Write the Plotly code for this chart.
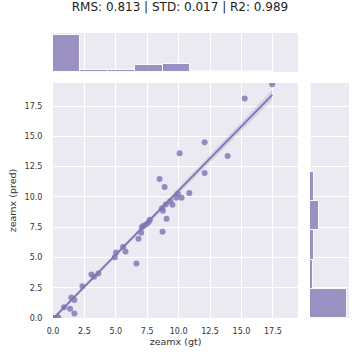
import numpy as np
import plotly.graph_objects as go

gt_vals = [0.0, 0.15, 0.42, 0.88, 1.36, 1.46, 1.70, 1.70, 2.34, 3.06, 3.27, 3.61,
           4.92, 5.02, 5.58, 5.77, 6.64, 6.80, 7.02, 7.07, 7.20, 7.42, 7.60, 7.71,
           8.48, 8.67, 8.72, 8.75, 8.88, 8.98, 9.04, 9.33, 9.51, 9.81, 9.94, 10.08,
           10.23, 10.85, 12.07, 12.07, 13.90, 15.26, 17.45]
pred_vals = [0.0, 0.0, 0.06, 0.88, 0.77, 1.70, 1.48, 0.38, 2.63, 3.59, 3.40, 3.67,
             5.01, 5.40, 5.89, 5.48, 4.49, 6.55, 7.04, 7.50, 7.61, 7.72, 7.91, 8.11,
             11.48, 9.07, 7.12, 8.85, 10.82, 9.37, 8.19, 9.64, 9.34, 9.92, 10.25, 13.61,
             9.92, 10.33, 14.52, 11.97, 13.37, 18.13, 19.30]
n_samples = [62, 1, 1, 1, 1, 1, 1, 1, 1, 1, 1, 1,
             1, 1, 1, 1, 1, 1, 1, 2, 2, 1, 1, 1,
             1, 1, 1, 2, 1, 2, 1, 2, 2, 1, 1, 1,
             1, 1, 1, 1, 1, 1, 1]

title_text = "RMS: 0.813 | STD: 0.017 | R2: 0.989"
x_label = "zeamx (gt)"
y_label = "zeamx (pred)"

base = "#8172B3"
bg = "#EAEAF2"
font = "DejaVu Sans"

x = np.array(gt_vals)
y = np.array(pred_vals)
w = np.array(n_samples, dtype=float)

# weighted linear fit + 95% confidence band (like seaborn regplot)
n = w.sum()
xm = (w * x).sum() / n
ym = (w * y).sum() / n
sxx = (w * (x - xm) ** 2).sum()
slope = (w * (x - xm) * (y - ym)).sum() / sxx
icpt = ym - slope * xm
resid = y - (icpt + slope * x)
s = np.sqrt((w * resid ** 2).sum() / (n - 2))
xg = np.linspace(x.min(), x.max(), 100)
yg = icpt + slope * xg
se = s * np.sqrt(1 / n + (xg - xm) ** 2 / sxx)
lo, hi = yg - 1.98 * se, yg + 1.98 * se

fig = go.Figure()

fig.add_trace(
    go.Scatter(
        x=np.concatenate([xg, xg[::-1]]),
        y=np.concatenate([hi, lo[::-1]]),
        fill="toself",
        fillcolor="rgba(129,114,179,0.2)",
        line=dict(width=0),
        hoverinfo="skip",
        xaxis="x",
        yaxis="y",
    )
)
fig.add_trace(
    go.Scatter(
        x=x,
        y=y,
        mode="markers",
        marker=dict(size=6, color=base, opacity=0.8, line=dict(width=0)),
        xaxis="x",
        yaxis="y",
    )
)
fig.add_trace(
    go.Scatter(x=xg, y=yg, mode="lines", line=dict(color=base, width=1.8), xaxis="x", yaxis="y")
)

xsize = (x.max() - x.min()) / 8 * 1.0001
ysize = (y.max() - y.min()) / 8 * 1.0001

fig.add_trace(
    go.Histogram(
        x=x,
        y=w,
        histfunc="sum",
        xbins=dict(start=x.min(), end=x.max(), size=xsize),
        marker=dict(color=base, opacity=0.75, line=dict(color="white", width=1)),
        xaxis="x2",
        yaxis="y2",
    )
)
fig.add_trace(
    go.Histogram(
        y=y,
        x=w,
        histfunc="sum",
        orientation="h",
        ybins=dict(start=y.min(), end=y.max(), size=ysize),
        marker=dict(color=base, opacity=0.75, line=dict(color="white", width=1)),
        xaxis="x3",
        yaxis="y3",
    )
)

tick_font = dict(family=font, size=8, color="#333333")
grid = dict(showgrid=True, gridcolor="white", gridwidth=1, zeroline=False, showline=False)

fig.update_layout(
    width=360,
    height=360,
    margin=dict(l=0, r=0, t=0, b=0),
    paper_bgcolor="white",
    plot_bgcolor=bg,
    showlegend=False,
    bargap=0,
    font=dict(family=font, color="#333333"),
    title=dict(
        text=title_text,
        x=0.5,
        xanchor="center",
        y=0.981,
        yanchor="middle",
        font=dict(family=font, size=12, color="#222222"),
    ),
    xaxis=dict(
        domain=[0.1472, 0.8278],
        range=[0, 19.5],
        dtick=2.5,
        tickformat=".1f",
        ticks="outside",
        ticklen=5,
        tickcolor="rgba(0,0,0,0)",
        tickfont=tick_font,
        title=dict(text=x_label, font=dict(family=font, size=9.5), standoff=3),
        anchor="y",
        automargin=False,
        **grid,
    ),
    yaxis=dict(
        domain=[0.1167, 0.7694],
        range=[0, 19.4],
        dtick=2.5,
        tickformat=".1f",
        ticks="outside",
        ticklen=8,
        tickcolor="rgba(0,0,0,0)",
        tickfont=tick_font,
        title=dict(text=y_label, font=dict(family=font, size=9.5), standoff=6),
        anchor="x",
        automargin=False,
        **grid,
    ),
    xaxis2=dict(
        domain=[0.1472, 0.8278],
        range=[0, 19.5],
        dtick=2.5,
        showticklabels=False,
        anchor="y2",
        automargin=False,
        **grid,
    ),
    yaxis2=dict(
        domain=[0.8, 0.9083],
        showticklabels=False,
        showgrid=False,
        zeroline=False,
        anchor="x2",
        automargin=False,
    ),
    xaxis3=dict(
        domain=[0.8611, 0.9694],
        showticklabels=False,
        showgrid=False,
        zeroline=False,
        anchor="y3",
        automargin=False,
    ),
    yaxis3=dict(
        domain=[0.1167, 0.7694],
        range=[0, 19.4],
        dtick=2.5,
        showticklabels=False,
        anchor="x3",
        automargin=False,
        **grid,
    ),
)

# drop the default page margin so the figure sits at the window's corner
fig.write_html(
    "out.html",
    config={"displayModeBar": False},
    post_script="document.body.style.margin = '0';",
)
